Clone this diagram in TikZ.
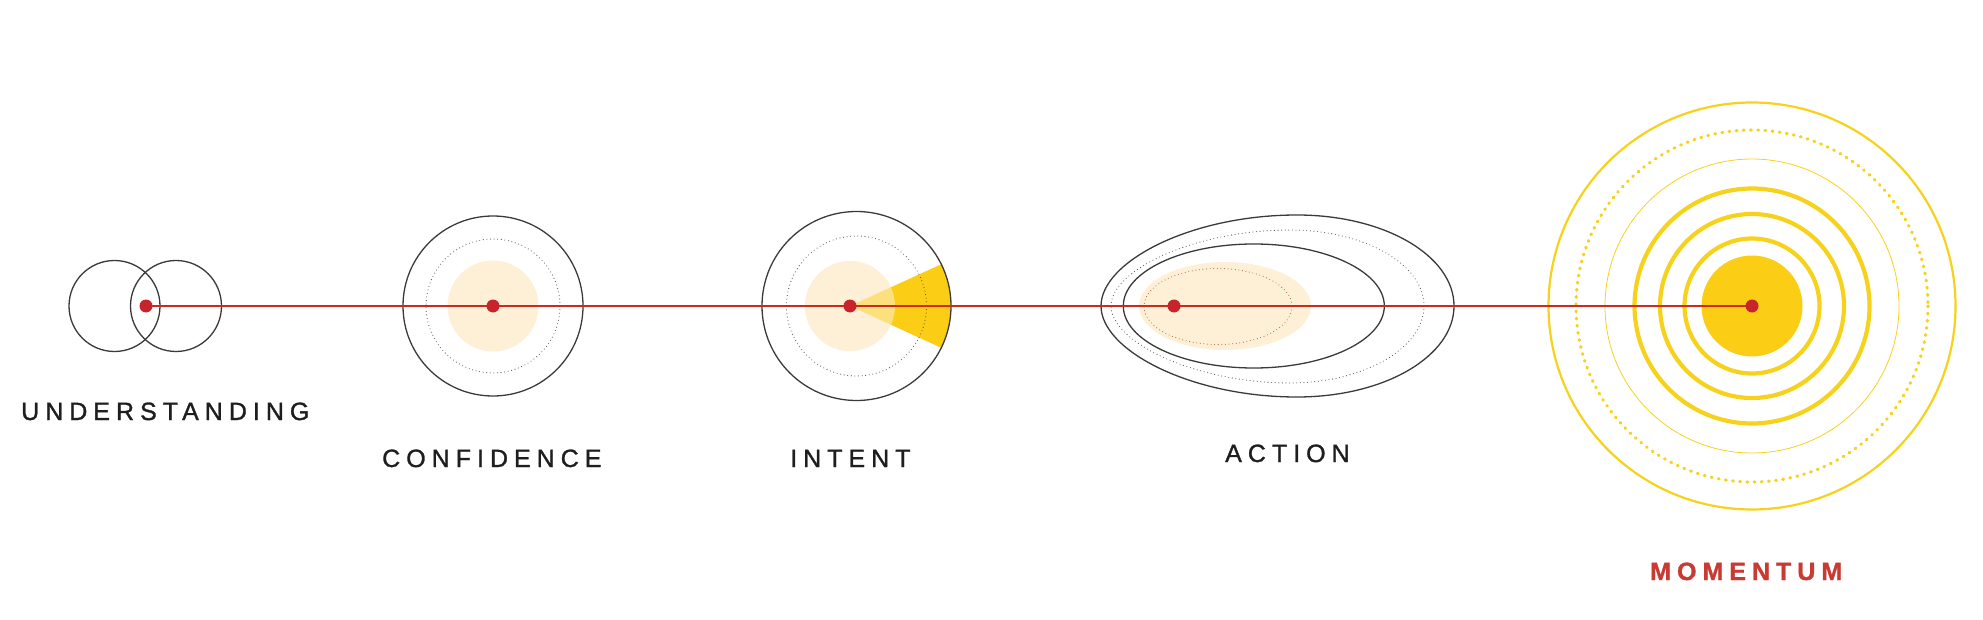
\documentclass[tikz,border=0pt]{standalone}
\usepackage{fontspec}
\setmainfont{Liberation Sans}
\newfontfamily\labelfont[LetterSpace=24,FakeBold=1.2]{Liberation Sans}
\definecolor{lineblk}{HTML}{3A3A3A}
\definecolor{dotgray}{HTML}{555555}
\definecolor{redc}{HTML}{C9232B}
\definecolor{redline}{HTML}{CC2A1E}
\definecolor{pale}{HTML}{FDF0D6}
\definecolor{sun}{HTML}{FBCD14}
\definecolor{ring}{HTML}{F6D21C}
\definecolor{momred}{HTML}{C83A32}
\definecolor{txt}{HTML}{1E1E1E}
\definecolor{rust}{HTML}{B8643C}
\tikzset{
  solidline/.style={draw=lineblk, line width=1.3pt},
  dotline/.style={draw=dotgray, line width=1.1pt, line cap=round, dash pattern=on 0pt off 3.6pt},
  rustdots/.style={draw=rust, line width=1.1pt, line cap=round, dash pattern=on 0pt off 3.6pt},
  reddot/.style={circle, fill=redc, inner sep=0pt, minimum size=13pt},
  lbl/.style={font=\labelfont\fontsize{25}{30}\selectfont, text=txt, inner sep=0pt, anchor=base west},
  thickring/.style={draw=ring, line width=4.2pt},
  yellowdots/.style={draw=ring, line width=3.2pt, line cap=round, dash pattern=on 0.8pt off 6.4pt},
}
\begin{document}
\begin{tikzpicture}[x=1pt,y=-1pt]
\useasboundingbox (0,0) rectangle (1983,620);
% centres
\coordinate (uc) at (146,306);
\coordinate (cc) at (493,306);
\coordinate (ic) at (856.5,306);
\coordinate (ac) at (1174,306);
\coordinate (mc) at (1752,306);
\coordinate (idot) at (850,306);

% ---------- fills ----------
\fill[pale] (cc) circle[radius=45.5];
\fill[pale] (idot) circle[radius=45];
\begin{scope}
  \clip (ic) circle[radius=94.5];
  \fill[sun] (idot) -- (1000,237.3) -- (1000,374.7) -- cycle;
\end{scope}
\fill[pale, fill opacity=0.55] (idot) circle[radius=45];
\fill[pale] (1225,306) ellipse[x radius=86, y radius=44];
\fill[sun] (mc) circle[radius=50.5];

% ---------- understanding ----------
\draw[solidline] (114.5,306) circle[radius=45.5];
\draw[solidline] (176,306) circle[radius=45.5];

% ---------- confidence ----------
\draw[solidline] (cc) circle[radius=90];
\draw[dotline] (cc) circle[radius=67];

% ---------- intent ----------
\draw[solidline] (ic) circle[radius=94.5];
\draw[dotline] (ic) circle[radius=70];

% ---------- action ----------
\draw[solidline, line join=round] (1101,306) .. controls (1101,262) and (1190,215) .. (1297,215)
  .. controls (1385,215) and (1454,256) .. (1454,306)
  .. controls (1454,356) and (1385,397) .. (1297,397)
  .. controls (1190,397) and (1101,350) .. (1101,306);
\draw[dotline] (1111,306) .. controls (1111,270) and (1195,230) .. (1290,230)
  .. controls (1364,230) and (1424,264) .. (1424,306)
  .. controls (1424,348) and (1364,383) .. (1290,383)
  .. controls (1195,383) and (1111,342) .. (1111,306);
\draw[solidline] (1253.8,306) ellipse[x radius=130.5, y radius=62];
\draw[rustdots] (1218,306.5) ellipse[x radius=74, y radius=38];

% ---------- momentum ----------
\draw[ring, line width=2.2pt] (mc) circle[radius=203.5];
\draw[yellowdots] (mc) circle[radius=176];
\draw[ring, line width=0.8pt] (mc) circle[radius=147];
\draw[thickring] (mc) circle[radius=117.5];
\draw[thickring] (mc) circle[radius=92];
\draw[thickring] (mc) circle[radius=67.5];

% ---------- connector ----------
\draw[redline, line width=1.6pt] (uc) -- (mc);
\node[reddot] (udot) at (uc) {};
\node[reddot] (cdot) at (cc) {};
\node[reddot] (intdot) at (idot) {};
\node[reddot] (adot) at (ac) {};
\node[reddot] (mdot) at (mc) {};

% ---------- labels ----------
\node[lbl] (tu) at (21,420) {UNDERSTANDING};
\node[lbl] (tc) at (382,467) {CONFIDENCE};
\node[lbl] (ti) at (790,467) {INTENT};
\node[lbl] (ta) at (1225,462) {ACTION};
\node[lbl, font=\labelfont\bfseries\fontsize{25}{30}\selectfont, text=momred] (tm) at (1650,580) {MOMENTUM};
\end{tikzpicture}
\end{document}
